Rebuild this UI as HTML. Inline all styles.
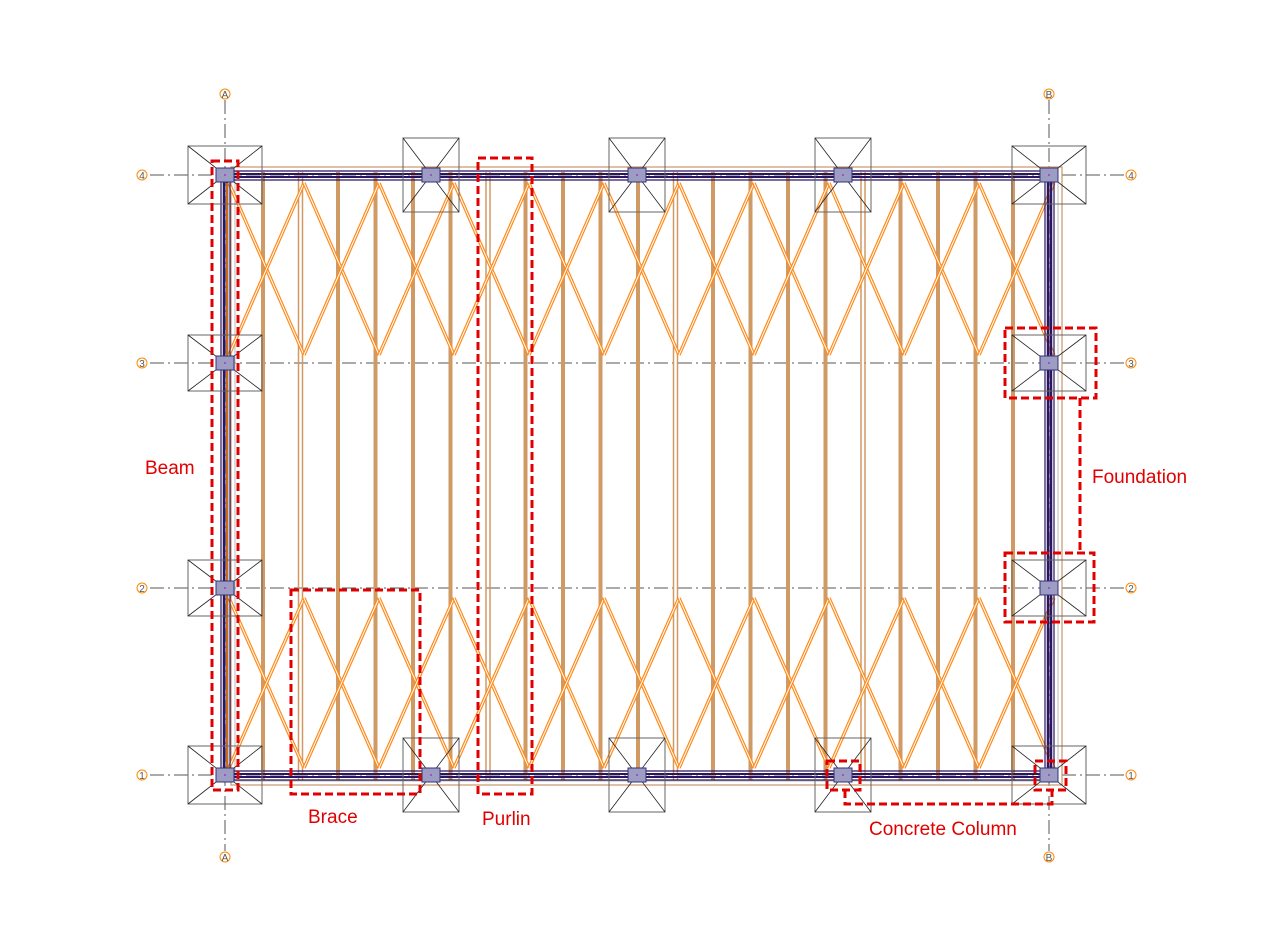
<!DOCTYPE html>
<html><head><meta charset="utf-8"><style>body{margin:0;background:#fff}svg{display:block}</style></head>
<body>
<svg id="s" width="1263" height="939" viewBox="0 0 1263 939" xmlns="http://www.w3.org/2000/svg" font-family="Liberation Sans, sans-serif">
<rect width="1263" height="939" fill="#fff"/>
<g id="g"></g>
<g fill="#e00000" font-size="19" font-family="Liberation Sans, sans-serif">
<text x="145" y="474">Beam</text>
<text x="308" y="823">Brace</text>
<text x="482" y="825">Purlin</text>
<text x="1092" y="483">Foundation</text>
<text x="869" y="835">Concrete Column</text>
</g>
<g fill="none" stroke="#e00000" stroke-width="3" stroke-dasharray="8,4">
<rect x="212" y="161" width="26" height="629"/>
<rect x="291" y="590" width="129" height="204"/>
<rect x="478" y="158" width="54" height="636"/>
<rect x="1005" y="328" width="91" height="70"/>
<rect x="1005" y="553" width="89" height="69"/>
<path d="M1080 398V553"/>
<rect x="827" y="761" width="33" height="29"/>
<rect x="1035" y="761" width="31" height="29"/>
<path d="M845 790V804H1052V790"/>
</g>
</svg>
<script>
const g=document.getElementById('g');let h='';
const X=[225,431,637,843,1049],Y=[175,363,588,775],R=['4','3','2','1'];
for(let i=0;i<4;i++){const y=Y[i];h+=`<line x1="150" y1="${y}" x2="1124" y2="${y}" stroke="#555" stroke-width="1" stroke-dasharray="14,4,2,4"/>`;
for(const cx of [142,1131])h+=`<circle cx="${cx}" cy="${y}" r="5" fill="#fff" stroke="#f80"/><text x="${cx}" y="${y+4}" font-size="10" text-anchor="middle" fill="#555">${R[i]}</text>`;}
for(const [x,l] of [[225,'A'],[1049,'B']]){h+=`<line x1="${x}" y1="100" x2="${x}" y2="851" stroke="#555" stroke-dasharray="14,4,2,4"/>`;
for(const cy of [94,857])h+=`<circle cx="${x}" cy="${cy}" r="5" fill="#fff" stroke="#f80"/><text x="${x}" y="${cy+4}" font-size="10" text-anchor="middle" fill="#555">${l}</text>`;}
h+=`<rect x="231" y="167" width="831" height="618" fill="none" stroke="#c8966a" stroke-width="1.2"/>`;
h+=`<rect x="235" y="171" width="823" height="610" fill="none" stroke="#bbb" stroke-width="1"/>`;
for(let k=0;k<21;k++){const x=263+37.5*k;if(k%5==1){h+=`<line x1="${x-2}" y1="172" x2="${x-2}" y2="780" stroke="#d09a65" stroke-width="1.5"/><line x1="${x+2}" y1="172" x2="${x+2}" y2="780" stroke="#d09a65" stroke-width="1.5"/>`}else h+=`<line x1="${x}" y1="172" x2="${x}" y2="780" stroke="#d09a65" stroke-width="4"/>`;}
function br(y1,y2){for(let c=0;c<11;c++){const a=225+75*c,b=a+75;for(const [p,q] of [[a,b],[b,a]]){h+=`<line x1="${p+4}" y1="${y1}" x2="${q+4}" y2="${y2}" stroke="#ff8a1a" stroke-width="3.4"/><line x1="${p+4}" y1="${y1}" x2="${q+4}" y2="${y2}" stroke="#fff" stroke-width="1"/>`;}}}
br(183,355);br(598,768);
for(const y of [175,775])for(const d of [-4,-1,2,5])h+=`<line x1="225" y1="${y+d}" x2="1049" y2="${y+d}" stroke="#2a1560" stroke-width="${d==-1||d==2?2:1.2}"/>`;
for(const x of [225,1049])for(const d of [-4,-1,2,5])h+=`<line x1="${x+d}" y1="175" x2="${x+d}" y2="775" stroke="#2a1560" stroke-width="${d==-1||d==2?2.5:1.2}"/>`;
h+=`<line x1="227" y1="183" x2="227" y2="770" stroke="#f80" stroke-width="1.5"/>`;
const F=[];for(const x of [431,637,843]){F.push([x,175,28,37]);F.push([x,775,28,37]);}
for(const x of [225,1049]){F.push([x,175,37,29]);F.push([x,775,37,29]);F.push([x,363,37,28]);F.push([x,588,37,28]);}
for(const [x,y,w,hh] of F){h+=`<rect x="${x-w}" y="${y-hh}" width="${2*w}" height="${2*hh}" fill="none" stroke="#666"/><path d="M${x-w} ${y-hh}L${x+w} ${y+hh}M${x+w} ${y-hh}L${x-w} ${y+hh}" stroke="#222" stroke-width="0.8"/>`;
h+=`<rect x="${x-9}" y="${y-7}" width="18" height="14" fill="#9d9dc4" stroke="#33337a"/><rect x="${x-1}" y="${y-1}" width="2" height="2" fill="#a050d0"/>`;}
g.innerHTML=h;
</script>
</body></html>
